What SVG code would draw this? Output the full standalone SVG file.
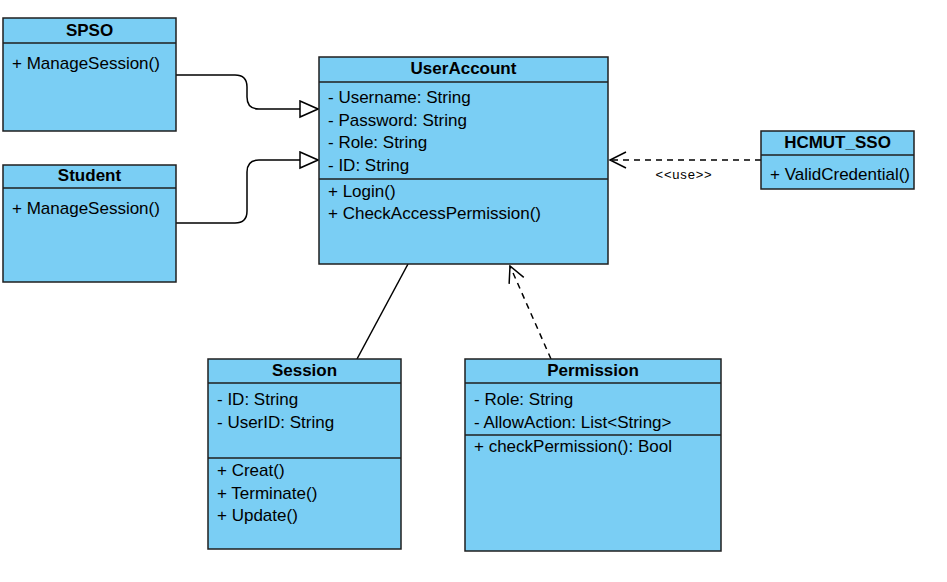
<svg xmlns="http://www.w3.org/2000/svg" width="947" height="582" viewBox="0 0 947 582">
<style>
.box{fill:#7ACEF4;stroke:#1f1f1f;stroke-width:1.5}
.sep{stroke:#1f1f1f;stroke-width:1.5}
.t{font-family:"Liberation Sans",Arial,sans-serif;font-size:17px;fill:#000}
.h{font-family:"Liberation Sans",Arial,sans-serif;font-size:17px;font-weight:bold;fill:#000;text-anchor:middle}
.c{fill:none;stroke:#000;stroke-width:1.5}
.d{stroke-dasharray:6 5}
.lbl{font-family:"Liberation Sans",Arial,sans-serif;font-size:13px;letter-spacing:0.8px;fill:#000;text-anchor:middle}
</style>
<defs>
<marker id="tri" markerWidth="20" markerHeight="20" refX="19" refY="9" orient="auto" markerUnits="userSpaceOnUse">
<path d="M1,1 L19,9 L1,17 Z" fill="#fff" stroke="#000" stroke-width="1.5"/>
</marker>
<marker id="open" markerWidth="20" markerHeight="20" refX="18" refY="9" orient="auto" markerUnits="userSpaceOnUse">
<path d="M2,1 L18,9 L2,17" fill="none" stroke="#000" stroke-width="1.5"/>
</marker>
</defs>
<rect width="947" height="582" fill="#fff"/>
<g id="connectors">
<path class="c" d="M176,75 L235,75 Q247,75 247,87 L247,97 Q247,109 259,109 L318,109" marker-end="url(#tri)"/>
<path class="c" d="M176,223 L235,223 Q247,223 247,211 L247,172 Q247,160 259,160 L318,160" marker-end="url(#tri)"/>
<path class="c d" d="M761,160 L610,160" marker-end="url(#open)"/>
<text class="lbl" x="684" y="179">&lt;&lt;use&gt;&gt;</text>
<path class="c" d="M357,359 L408,264"/>
<path class="c d" d="M551,359 L510,266" marker-end="url(#open)"/>
</g>
<g id="SPSO">
<rect class="box" x="3" y="18" width="173" height="113"/>
<line class="sep" x1="3" y1="43" x2="176" y2="43"/>
<text class="h" x="89.5" y="36">SPSO</text>
<text class="t" x="12" y="69">+ ManageSession()</text>
</g>
<g id="Student">
<rect class="box" x="3" y="165" width="173" height="117"/>
<line class="sep" x1="3" y1="188" x2="176" y2="188"/>
<text class="h" x="89.5" y="181">Student</text>
<text class="t" x="12" y="214">+ ManageSession()</text>
</g>
<g id="UserAccount">
<rect class="box" x="319" y="57" width="289" height="207"/>
<line class="sep" x1="319" y1="82" x2="608" y2="82"/>
<line class="sep" x1="319" y1="179" x2="608" y2="179"/>
<text class="h" x="463.5" y="74">UserAccount</text>
<text class="t" x="328" y="103">- Username: String</text>
<text class="t" x="328" y="126">- Password: String</text>
<text class="t" x="328" y="148">- Role: String</text>
<text class="t" x="328" y="171">- ID: String</text>
<text class="t" x="328" y="197">+ Login()</text>
<text class="t" x="328" y="219">+ CheckAccessPermission()</text>
</g>
<g id="HCMUT_SSO">
<rect class="box" x="761" y="131" width="153" height="58"/>
<line class="sep" x1="761" y1="155" x2="914" y2="155"/>
<text class="h" x="837.5" y="148">HCMUT_SSO</text>
<text class="t" x="770" y="180">+ ValidCredential()</text>
</g>
<g id="Session">
<rect class="box" x="208" y="359" width="193" height="190"/>
<line class="sep" x1="208" y1="383" x2="401" y2="383"/>
<line class="sep" x1="208" y1="458" x2="401" y2="458"/>
<text class="h" x="304.5" y="376">Session</text>
<text class="t" x="217" y="405">- ID: String</text>
<text class="t" x="217" y="428">- UserID: String</text>
<text class="t" x="217" y="476">+ Creat()</text>
<text class="t" x="217" y="499">+ Terminate()</text>
<text class="t" x="217" y="521">+ Update()</text>
</g>
<g id="Permission">
<rect class="box" x="465" y="359" width="256" height="192"/>
<line class="sep" x1="465" y1="383" x2="721" y2="383"/>
<line class="sep" x1="465" y1="435" x2="721" y2="435"/>
<text class="h" x="593" y="376">Permission</text>
<text class="t" x="474" y="405">- Role: String</text>
<text class="t" x="474" y="428">- AllowAction: List&lt;String&gt;</text>
<text class="t" x="474" y="452">+ checkPermission(): Bool</text>
</g>
</svg>
